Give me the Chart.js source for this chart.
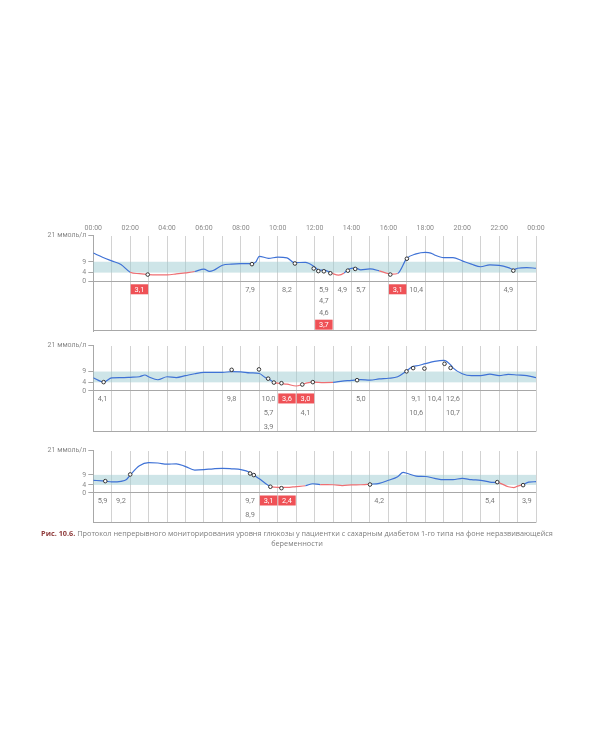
<!DOCTYPE html>
<html>
<head>
<meta charset="utf-8">
<script src="https://cdn.jsdelivr.net/npm/chart.js@4.4.1/dist/chart.umd.min.js"></script>
<style>
  body { margin: 0; background: #fff; width: 600px; height: 750px; position: relative; overflow: hidden; }
  canvas { position: absolute; left: 0; }
  #cap { position: absolute; top: 529px; left: 0; width: 594px; text-align: center;
         font: 7.3px/9.6px "Open Sans", sans-serif; color: #7d7d7d; }
  #cap b { color: #8e3b3b; }
</style>
</head>
<body>
<canvas id="p1" width="600" height="140" style="top:205px"></canvas>
<canvas id="p2" width="600" height="116" style="top:330px"></canvas>
<canvas id="p3" width="600" height="102" style="top:435px"></canvas>
<div id="cap"><b>Рис. 10.6.</b> Протокол непрерывного мониторирования уровня глюкозы у пациентки с сахарным диабетом 1-го типа на фоне неразвивающейся<br>беременности</div>

<script>
// tick labels
const hourLabels = ['00:00', '02:00', '04:00', '06:00', '08:00', '10:00', '12:00',
  '14:00', '16:00', '18:00', '20:00', '22:00', '00:00'];
const glucoseTicks = [0, 4, 9, 21];
const targetRange = [4, 9];

// day 1: sensor curve (hours, mmol/l)
const times1 = [0, 0.5, 1, 1.5, 2, 2.5, 3, 3.5, 4, 4.5, 5, 5.5, 6, 6.3, 6.5, 7, 7.5, 8, 8.6, 8.8,
  9, 9.5, 10, 10.5, 10.9, 11.5, 12, 12.2, 12.5, 12.85, 13, 13.3, 13.6, 13.8, 14.2, 14.5, 15, 15.5,
  16, 16.2, 16.5, 17, 17.5, 18, 18.3, 18.5, 19, 19.5, 20, 20.5, 21, 21.5, 22, 22.5, 22.8, 23, 23.5, 24];
const glucose1 = [13.0, 11.1, 9.4, 7.75, 4.2, 3.5, 3.1, 3.0, 3.0, 3.4, 3.9, 4.5, 5.6, 4.6, 5.0, 7.4, 7.9, 8.1, 8.1, 8.8,
  11.5, 10.6, 11.1, 10.8, 8.6, 8.7, 6.6, 5.25, 5.1, 4.15, 3.5, 2.8, 3.8, 5.4, 6.2, 5.25, 5.7, 4.8,
  3.5, 3.3, 3.6, 10.6, 12.6, 13.3, 13.0, 12.1, 10.9, 10.9, 9.4, 7.9, 6.7, 7.6, 7.3, 6.3, 5.4, 6.0, 6.3, 6.0];
const lowSpans1 = [[2, 5.5], [12.85, 13.6], [15.5, 16.5]];
// day 1: meter readings
const meterTimes1 = [2.95, 8.6, 10.93, 11.95, 12.2, 12.5, 12.85, 13.8, 14.2, 16.1, 17.0, 22.77];
const meterValues1 = [3.1, 7.9, 8.2, 5.9, 4.7, 4.6, 3.7, 4.9, 5.7, 3.1, 10.4, 4.9];
const meterCells1 = [2, 8, 10, 12, 12, 12, 12, 13, 14, 16, 17, 22];

// day 2
const times2 = [0, 0.56, 1, 1.5, 2, 2.5, 2.8, 3, 3.5, 4, 4.5, 5, 5.5, 6, 6.5, 7, 7.5, 8, 8.5, 9,
  9.3, 9.5, 9.8, 10, 10.2, 10.5, 11, 11.33, 11.6, 11.9, 12.5, 13, 13.5, 14, 14.3, 14.5, 15, 15.5,
  16, 16.5, 17, 17.3, 17.5, 18, 18.5, 19, 19.4, 19.5, 20, 20.5, 21, 21.5, 22, 22.5, 23, 23.5, 24];
const glucose2 = [6.1, 4.1, 6.1, 6.2, 6.35, 6.6, 7.4, 6.6, 5.2, 6.6, 6.2, 7.1, 8.0, 8.6, 8.6, 8.6, 9.0, 8.9, 8.4, 8.1,
  6.35, 5.6, 4.0, 3.6, 3.4, 3.15, 2.3, 3.0, 3.75, 4.1, 3.9, 3.95, 4.6, 4.9, 5.2, 5.3, 5.0, 5.6,
  5.9, 6.6, 9.35, 11.3, 11.6, 12.65, 13.7, 14.2, 11.9, 10.7, 8.0, 7.1, 7.1, 7.8, 7.1, 7.7, 7.4, 7.1, 6.2];
const lowSpans2 = [[9.8, 13.0]];
const meterTimes2 = [0.56, 7.5, 8.98, 9.48, 9.79, 10.2, 11.33, 11.9, 14.3, 16.98, 17.34, 17.95, 19.04, 19.37];
const meterValues2 = [4.1, 9.8, 10.0, 5.7, 3.9, 3.6, 3.0, 4.1, 5.0, 9.1, 10.6, 10.4, 12.6, 10.7];
const meterCells2 = [0, 7, 9, 9, 9, 10, 11, 11, 14, 17, 17, 18, 19, 19];

// day 3
const times3 = [0, 0.5, 0.65, 1, 1.5, 1.8, 2, 2.5, 3, 3.5, 4, 4.5, 5, 5.5, 6, 6.5, 7, 7.5, 8, 8.5, 8.7,
  9, 9.3, 9.6, 10, 10.5, 11, 11.5, 11.9, 12.3, 13, 13.5, 14, 14.5, 15, 15.5, 16, 16.5, 16.8, 17,
  17.5, 18, 18.5, 19, 19.5, 20, 20.5, 21, 21.5, 22, 22.5, 22.8, 23, 23.3, 23.6, 24];
const glucose3 = [6.3, 6.0, 5.9, 5.5, 5.8, 6.7, 8.9, 13.5, 15.1, 14.9, 14.3, 14.5, 13.1, 11.4, 11.6, 12.0, 12.25, 12.0, 11.6, 10.2, 8.9,
  7.1, 5.0, 3.3, 2.75, 2.75, 3.2, 3.6, 4.6, 4.2, 4.1, 3.7, 4.0, 4.1, 4.4, 4.8, 6.3, 8.1, 10.2, 9.8,
  8.4, 8.2, 7.3, 6.6, 6.6, 7.3, 6.6, 6.3, 5.4, 5.0, 3.1, 2.7, 3.4, 4.2, 5.4, 5.6];
const lowSpans3 = [[9.6, 11.5], [12.3, 15.0], [22.0, 23.3]];
const meterTimes3 = [0.65, 2.0, 8.5, 8.7, 9.6, 10.2, 15.0, 21.9, 23.3];
const meterValues3 = [5.9, 9.2, 9.7, 8.9, 3.1, 2.4, 4.2, 5.4, 3.9];
const meterCells3 = [0, 1, 8, 8, 9, 10, 15, 21, 23];

const BLUE = '#3f72d6';
const RED = '#ef6f73';
const GRID = '#d2d2d2';
const AXIS = '#a8a8a8';

Chart.defaults.font.family = 'Roboto, "Liberation Sans", sans-serif';
Chart.defaults.font.size = 7;
Chart.defaults.color = '#8a8a8a';

const inLow = (spans, a, b) => spans.some(s => a >= s[0] - 1e-6 && b <= s[1] + 1e-6);
const fmt = v => v.toFixed(1).replace('.', ',');

// target band + bottom frame line
const bandPlugin = {
  id: 'band',
  beforeDatasetsDraw(chart) {
    const {ctx, chartArea: a, scales: {y}} = chart;
    const top = y.getPixelForValue(targetRange[1]);
    const bot = y.getPixelForValue(targetRange[0]);
    ctx.save();
    ctx.fillStyle = 'rgba(158, 204, 209, 0.5)';
    ctx.fillRect(a.left, top, a.right - a.left, bot - top);
    ctx.strokeStyle = AXIS;
    ctx.lineWidth = 1;
    ctx.beginPath();
    ctx.moveTo(a.left, Math.round(a.bottom) - 0.5);
    ctx.lineTo(a.right, Math.round(a.bottom) - 0.5);
    ctx.stroke();
    ctx.restore();
  }
};

// meter values written under the zero line, one column per hour
const labelPlugin = {
  id: 'meterLabels',
  afterDatasetsDraw(chart, args, o) {
    const {ctx, scales: {x, y}} = chart;
    const y0 = y.getPixelForValue(0);
    const rows = {};
    ctx.save();
    ctx.font = '7.4px Roboto, sans-serif';
    ctx.textAlign = 'center';
    ctx.textBaseline = 'middle';
    o.cells.forEach((c, i) => {
      const row = rows[c] = (rows[c] === undefined ? 0 : rows[c] + 1);
      const x0 = x.getPixelForValue(c);
      const x1 = x.getPixelForValue(c + 1);
      const yc = y0 + o.rowStart + row * o.rowStep;
      const v = o.values[i];
      if (v < 3.9) {
        ctx.fillStyle = '#ef5156';
        ctx.fillRect(x0 + 0.5, yc - 5, x1 - x0 - 1, 10);
        ctx.fillStyle = '#fff';
      } else {
        ctx.fillStyle = '#7a7a7a';
      }
      ctx.fillText(fmt(v), (x0 + x1) / 2, yc + 0.5);
    });
    ctx.restore();
  }
};

function makePanel(id, times, glucose, lowSpans, mTimes, mValues, mCells, p) {
  new Chart(document.getElementById(id), {
    type: 'line',
    data: {
      datasets: [
        {
          label: 'meter',
          data: mTimes.map((t, i) => ({x: t, y: mValues[i]})),
          showLine: false,
          pointRadius: 1.8,
          pointBorderWidth: 1,
          pointBackgroundColor: '#fff',
          pointBorderColor: '#333',
        },
        {
          label: 'sensor',
          data: times.map((t, i) => ({x: t, y: glucose[i]})),
          borderColor: BLUE,
          borderWidth: 1.2,
          pointRadius: 0,
          cubicInterpolationMode: 'monotone',
          segment: {
            borderColor: c => inLow(lowSpans, c.p0.parsed.x, c.p1.parsed.x) ? RED : BLUE,
          },
        },
      ],
    },
    options: {
      responsive: false,
      animation: false,
      devicePixelRatio: 1,
      events: [],
      layout: {padding: {left: 0, top: 0, right: 64, bottom: p.padBottom}},
      plugins: {
        legend: {display: false},
        tooltip: {enabled: false},
        meterLabels: {cells: mCells, values: mValues, rowStart: p.rowStart, rowStep: p.rowStep},
      },
      scales: {
        x: {
          type: 'linear',
          position: 'top',
          min: 0,
          max: 24,
          afterFit: s => { s.height = p.axisH; },
          afterBuildTicks: s => { s.ticks = Array.from({length: 25}, (_, h) => ({value: h})); },
          border: {display: false},
          grid: {color: GRID, lineWidth: 1, drawTicks: false},
          ticks: {
            display: p.showHours,
            autoSkip: false,
            maxRotation: 0,
            padding: 3,
            color: '#8a8a8a',
            callback: v => (v % 2 === 0 ? hourLabels[v / 2] : ''),
          },
        },
        y: {
          type: 'linear',
          min: p.yMin,
          max: 21,
          afterFit: s => { s.width = 93.3; },
          afterBuildTicks: s => { s.ticks = glucoseTicks.map(v => ({value: v})); },
          border: {display: true, color: AXIS},
          grid: {
            color: c => (c.tick && c.tick.value === 0 ? AXIS : 'rgba(0,0,0,0)'),
            tickColor: AXIS,
            tickLength: 5,
          },
          ticks: {
            padding: 2,
            color: '#8a8a8a',
            callback: v => (v === 21 ? '21 ммоль/л' : String(v)),
          },
        },
      },
    },
    plugins: [bandPlugin, labelPlugin],
  });
}

makePanel('p1', times1, glucose1, lowSpans1, meterTimes1, meterValues1, meterCells1,
  {yMin: -22.9, axisH: 30.7, padBottom: 14, showHours: true, rowStart: 8, rowStep: 11.8});
makePanel('p2', times2, glucose2, lowSpans2, meterTimes2, meterValues2, meterCells2,
  {yMin: -18.9, axisH: 15.7, padBottom: 14.3, showHours: false, rowStart: 7.5, rowStep: 14.3});
makePanel('p3', times3, glucose3, lowSpans3, meterTimes3, meterValues3, meterCells3,
  {yMin: -14.75, axisH: 15.7, padBottom: 14.3, showHours: false, rowStart: 7.5, rowStep: 14});
</script>
</body>
</html>
